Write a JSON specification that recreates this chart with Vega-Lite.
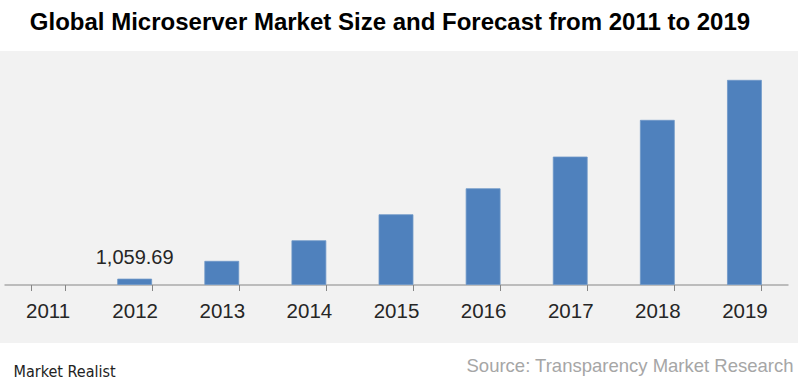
{
  "$schema": "https://vega.github.io/schema/vega-lite/v6.json",
  "autosize": {"type": "none"},
  "padding": {"left": 0, "top": 51, "right": 2, "bottom": 41},
  "width": 798,
  "height": 292,
  "background": "white",
  "title": {
    "text": "Global Microserver Market Size and Forecast from 2011 to 2019",
    "font": "Liberation Sans",
    "fontSize": 24,
    "fontWeight": "bold",
    "color": "#000000",
    "anchor": "middle",
    "frame": "group",
    "offset": 14,
    "dx": -9
  },
  "config": {
    "view": {"fill": "#f2f2f2", "stroke": null},
    "font": "Liberation Sans"
  },
  "data": {
    "values": [
      {"year": "2011", "size": null, "label": ""},
      {"year": "2012", "size": 1059.69, "label": "1,059.69"},
      {"year": "2013", "size": 4547, "label": ""},
      {"year": "2014", "size": 8585, "label": ""},
      {"year": "2015", "size": 13681, "label": ""},
      {"year": "2016", "size": 18777, "label": ""},
      {"year": "2017", "size": 24990, "label": ""},
      {"year": "2018", "size": 32183, "label": ""},
      {"year": "2019", "size": 40023, "label": ""}
    ]
  },
  "encoding": {
    "x": {
      "field": "year",
      "type": "nominal",
      "sort": null,
      "scale": {
        "domain": ["2011", "2012", "2013", "2014", "2015", "2016", "2017", "2018", "2019"],
        "range": [4, 788], "paddingInner": 0.61, "paddingOuter": 0.305
      },
      "axis": {
        "title": "Source: Transparency Market Research",
        "titleFont": "Liberation Sans",
        "titleFontSize": 18.5,
        "titleFontWeight": "normal",
        "titleColor": "#a6a6a6",
        "titleAnchor": "end",
        "titleAlign": "right",
        "titleBaseline": "alphabetic",
        "titleX": 793,
        "titleY": 86.5,
        "offset": -58.5,
        "labelAngle": 0,
        "labelFont": "Liberation Sans",
        "labelFontSize": 20.5,
        "labelColor": "#262626",
        "labelBaseline": "alphabetic",
        "labelPadding": 26.8,
        "tickBand": "extent",
        "tickSize": 6,
        "tickColor": "#868686",
        "domainColor": "#868686",
        "domainWidth": 1,
        "grid": false
      }
    },
    "y": {
      "field": "size",
      "type": "quantitative",
      "scale": {"domain": [-11466, 45766], "nice": false, "zero": false},
      "axis": {
        "title": "Market Realist",
        "titleFont": "DejaVu Sans Condensed, Liberation Sans",
        "titleFontSize": 16,
        "titleFontWeight": "normal",
        "titleColor": "#222222",
        "titleAngle": 0,
        "titleAlign": "left",
        "titleBaseline": "alphabetic",
        "titleX": 13,
        "titleY": 325.7,
        "labels": false,
        "ticks": false,
        "domain": false,
        "grid": false
      }
    }
  },
  "layer": [
    {
      "mark": {"type": "bar", "color": "#4f81bd", "stroke": "#6f98c8", "strokeWidth": 0.8}
    },
    {
      "mark": {"type": "text", "fontSize": 20, "color": "#262626", "baseline": "alphabetic", "dy": -15, "font": "Liberation Sans"},
      "encoding": {"text": {"field": "label"}}
    }
  ]
}
